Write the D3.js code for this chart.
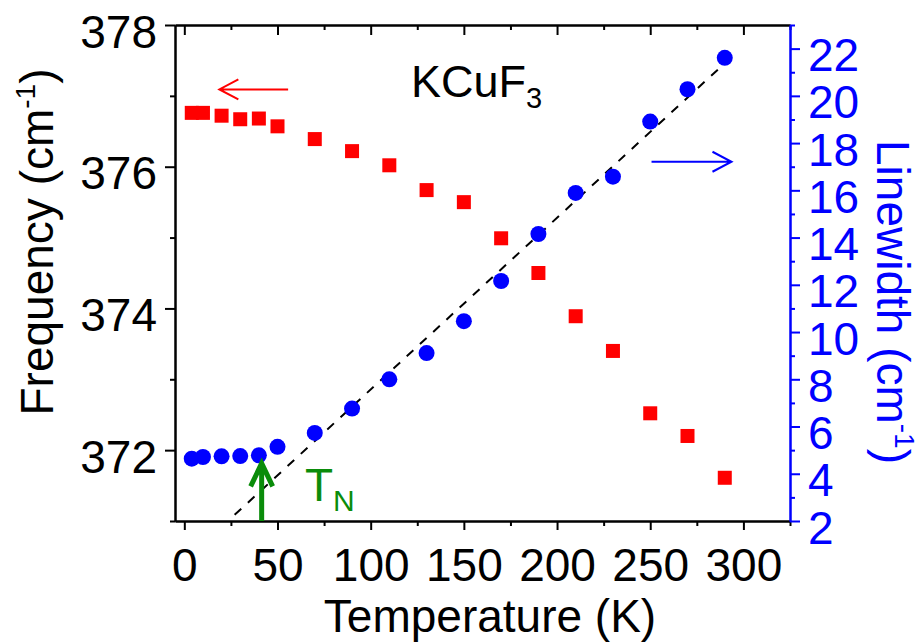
<!DOCTYPE html>
<html>
<head>
<meta charset="utf-8">
<script src="https://d3js.org/d3.v7.min.js"></script>
<style>
body { margin: 0; background: #fff; }
svg text { font-family: "Liberation Sans", Arial, sans-serif; }
</style>
</head>
<body>
<div id="chart"></div>
<script>
// phonon mode of KCuF3: peak frequency (left axis) and linewidth (right axis)
var temps = [4, 10, 20, 30, 40, 50, 70, 90, 110, 130, 150, 170, 190, 210, 230, 250, 270, 290];
var frequency = [376.76, 376.76, 376.72, 376.67, 376.68, 376.57, 376.39, 376.22, 376.02, 375.67,
                 375.50, 374.99, 374.50, 373.89, 373.40, 372.52, 372.20, 371.61];
var linewidth = [4.64, 4.71, 4.74, 4.75, 4.78, 5.14, 5.73, 6.76, 8.00, 9.11,
                 10.46, 12.16, 14.15, 15.89, 16.58, 18.91, 20.28, 21.61];

// linear guide through the high temperature linewidths
var fitTemps = [27, 293];
var fitWidths = [2.26, 21.6];

var tN = 41.5;

var xTicks = [0, 50, 100, 150, 200, 250, 300];
var xMinor = [25, 75, 125, 175, 225, 275, 325];
var freqTicks = [372, 374, 376, 378];
var freqMinor = [371, 373, 375, 377];
var widthTicks = [2, 4, 6, 8, 10, 12, 14, 16, 18, 20, 22];
var widthMinor = [3, 5, 7, 9, 11, 13, 15, 17, 19, 21, 23];

var margin = {top: 25, right: 130, bottom: 121, left: 175};
var width = 920 - margin.left - margin.right,
    height = 642 - margin.top - margin.bottom;

var svg = d3.select("#chart").append("svg")
    .attr("width", 920)
    .attr("height", 642)
    .append("g")
    .attr("transform", "translate(" + margin.left + "," + margin.top + ")");

var x = d3.scaleLinear().domain([-5, 325]).range([0, width]);
var yF = d3.scaleLinear().domain([371, 378]).range([height, 0]);
var yW = d3.scaleLinear().domain([2, 23]).range([height, 0]);

function styleAxis(g, color) {
    g.select(".domain").attr("stroke", color).attr("stroke-width", 2);
    g.selectAll(".tick line").attr("stroke", color).attr("stroke-width", 2);
    g.selectAll(".tick text").attr("fill", color).style("font-size", "46px");
}

// top frame with inward ticks
var top1 = svg.append("g")
    .call(d3.axisBottom(x).tickValues(xTicks).tickSize(10).tickSizeOuter(0).tickFormat(""));
styleAxis(top1, "#000");
var top2 = svg.append("g")
    .call(d3.axisBottom(x).tickValues(xMinor).tickSize(5).tickSizeOuter(0).tickFormat(""));
styleAxis(top2, "#000");

// bottom axis
var bot2 = svg.append("g")
    .attr("transform", "translate(0," + height + ")")
    .call(d3.axisBottom(x).tickValues(xMinor).tickSize(5).tickSizeOuter(0).tickFormat(""));
styleAxis(bot2, "#000");
var bot1 = svg.append("g")
    .attr("transform", "translate(0," + height + ")")
    .call(d3.axisBottom(x).tickValues(xTicks).tickSize(9).tickSizeOuter(0).tickFormat(d3.format("d")));
styleAxis(bot1, "#000");
bot1.selectAll(".tick text").attr("y", 60).attr("dy", null);

// left axis (frequency)
var left2 = svg.append("g")
    .call(d3.axisLeft(yF).tickValues(freqMinor).tickSize(5).tickSizeOuter(0).tickFormat(""));
styleAxis(left2, "#000");
var left1 = svg.append("g")
    .call(d3.axisLeft(yF).tickValues(freqTicks).tickSize(10).tickSizeOuter(0).tickFormat(d3.format("d")));
styleAxis(left1, "#000");
left1.selectAll(".tick text").attr("x", -18).attr("y", 22).attr("dy", null);

// right axis (linewidth)
var right2 = svg.append("g")
    .attr("transform", "translate(" + width + ",0)")
    .call(d3.axisRight(yW).tickValues(widthMinor).tickSize(5).tickSizeOuter(0).tickFormat(""));
styleAxis(right2, "#0000ff");
var right1 = svg.append("g")
    .attr("transform", "translate(" + width + ",0)")
    .call(d3.axisRight(yW).tickValues(widthTicks).tickSize(10).tickSizeOuter(0).tickFormat(d3.format("d")));
styleAxis(right1, "#0000ff");
right1.selectAll(".tick text").attr("x", 18).attr("y", 22).attr("dy", null);

// axis titles
svg.append("text")
    .attr("x", 490 - margin.left)
    .attr("y", 632 - margin.top)
    .attr("text-anchor", "middle")
    .style("font-size", "46px")
    .text("Temperature (K)");

var fTitle = svg.append("text")
    .attr("transform", "translate(" + (53 - margin.left) + "," + (242 - margin.top) + ") rotate(-90)")
    .attr("text-anchor", "middle")
    .style("font-size", "46px");
fTitle.append("tspan").text("Frequency (cm");
fTitle.append("tspan").attr("dy", -18).style("font-size", "28px").text("-1");
fTitle.append("tspan").attr("dy", 18).text(")");

var wTitle = svg.append("text")
    .attr("transform", "translate(" + (877 - margin.left) + "," + (302 - margin.top) + ") rotate(90)")
    .attr("text-anchor", "middle")
    .attr("fill", "#0000ff")
    .style("font-size", "46px");
wTitle.append("tspan").text("Linewidth (cm");
wTitle.append("tspan").attr("dy", -18).style("font-size", "28px").text("-1");
wTitle.append("tspan").attr("dy", 18).text(")");

// compound label
var title = svg.append("text")
    .attr("x", 411 - margin.left)
    .attr("y", 97 - margin.top)
    .style("font-size", "45px");
title.append("tspan").text("KCuF");
title.append("tspan").attr("dy", 11).style("font-size", "29px").text("3");

// fit line
svg.append("line")
    .attr("x1", x(fitTemps[0])).attr("y1", yW(fitWidths[0]))
    .attr("x2", x(fitTemps[1])).attr("y2", yW(fitWidths[1]))
    .attr("stroke", "#000")
    .attr("stroke-width", 2)
    .attr("stroke-dasharray", "9,9");

// frequency squares
var sq = 14;
svg.selectAll(".freq")
    .data(temps)
    .enter().append("rect")
    .attr("class", "freq")
    .attr("x", function(d) { return x(d) - sq / 2; })
    .attr("y", function(d, i) { return yF(frequency[i]) - sq / 2; })
    .attr("width", sq)
    .attr("height", sq)
    .attr("fill", "#ff0000");

// linewidth circles
svg.selectAll(".width")
    .data(temps)
    .enter().append("circle")
    .attr("class", "width")
    .attr("cx", function(d) { return x(d); })
    .attr("cy", function(d, i) { return yW(linewidth[i]); })
    .attr("r", 8)
    .attr("fill", "#0000ff");

// arrows pointing to the axis each series belongs to
function arrow(x1, x2, yy, color) {
    var dir = x2 < x1 ? 1 : -1;
    svg.append("path")
        .attr("d", "M" + x1 + "," + yy + "L" + x2 + "," + yy +
              "M" + (x2 + dir * 19) + "," + (yy - 10) + "L" + x2 + "," + yy + "L" + (x2 + dir * 19) + "," + (yy + 10))
        .attr("fill", "none")
        .attr("stroke", color)
        .attr("stroke-width", 2);
}
arrow(x(55.7), x(18.8), yF(377.09), "#ff0000");
arrow(x(250.7), x(293.6), yW(17.21), "#0000ff");

// Neel temperature marker
var green = "#0a8c0a";
var tx = x(tN), tip = yW(4.44);
svg.append("path")
    .attr("d", "M" + tx + "," + height + "L" + tx + "," + tip +
          "M" + (tx - 11) + "," + (tip + 23) + "L" + tx + "," + tip + "L" + (tx + 11) + "," + (tip + 23))
    .attr("fill", "none")
    .attr("stroke", green)
    .attr("stroke-width", 5);

var tn = svg.append("text")
    .attr("x", 305 - margin.left)
    .attr("y", 501 - margin.top)
    .attr("fill", green)
    .style("font-size", "46px");
tn.append("tspan").text("T");
tn.append("tspan").attr("dy", 10).style("font-size", "30px").text("N");
</script>
</body>
</html>
